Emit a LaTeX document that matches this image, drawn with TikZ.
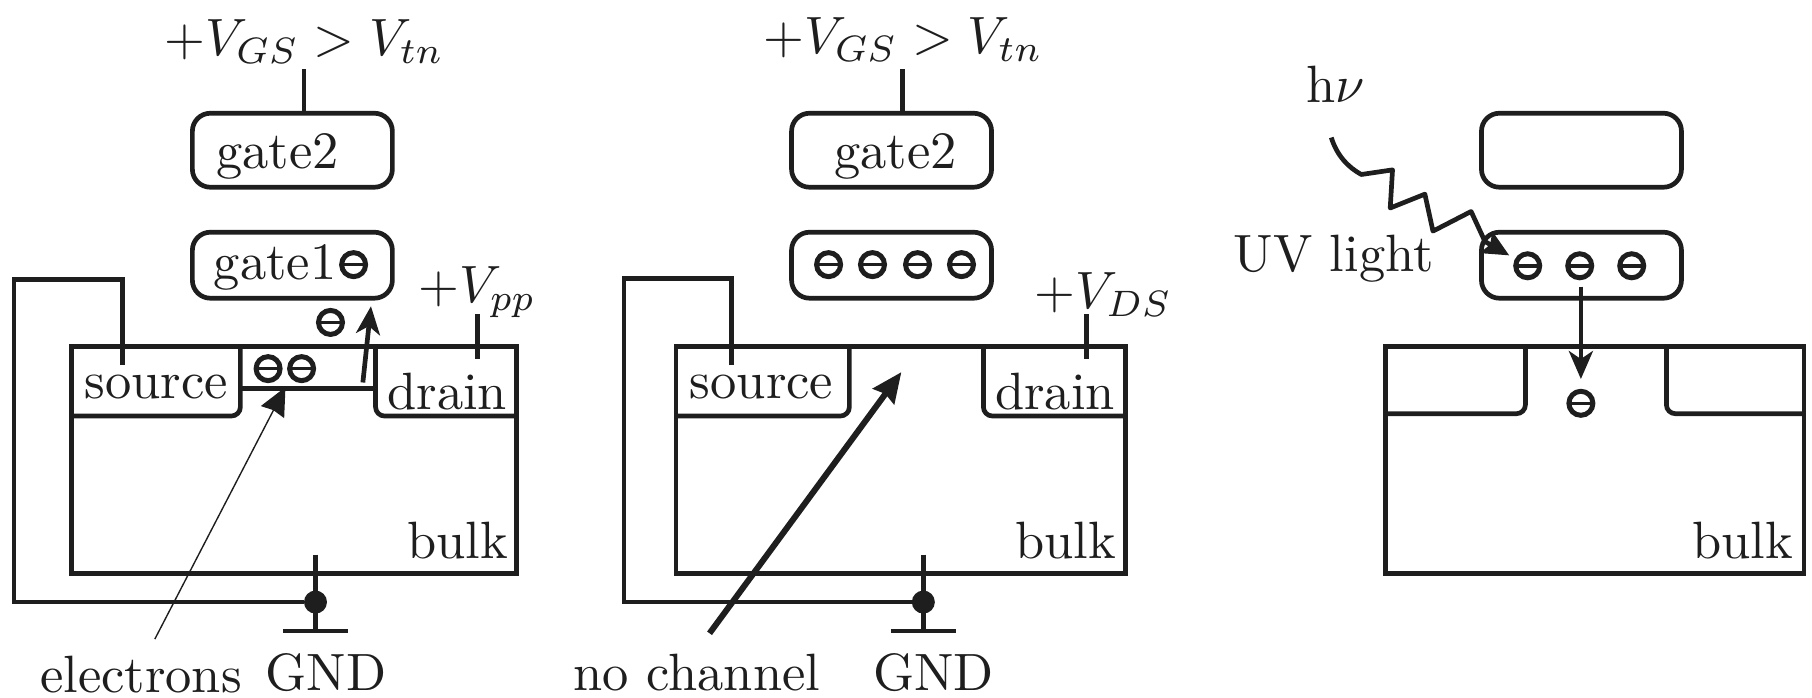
\documentclass[tikz,border=0pt]{standalone}
\usetikzlibrary{arrows.meta,calc}
\tikzset{
  px/.style={x=1.1556pt,y=-1.1556pt},
  lw/.style={line width=4.7pt,draw=ink},
  gatebox/.style={lw,rectangle,rounded corners=18pt,minimum width=200pt,inner sep=0pt,anchor=center},
  txt/.style={scale=5.25,inner sep=0pt,text=ink},
  elec/.style={circle,lw,line width=5pt,minimum size=24pt,inner sep=0pt,
    path picture={\draw[line width=3.5pt,draw=ink] (path picture bounding box.west) -- (path picture bounding box.east);}},
  wire/.style={lw,line join=miter},
  dotn/.style={circle,fill=ink,inner sep=0pt,minimum size=23pt},
  headarrow/.style={lw,-{Stealth[length=28pt,width=24pt,inset=8pt]}},
  fatarrow/.style={line width=6pt,draw=ink,-{Stealth[length=30pt,width=26pt,inset=3pt]}},
  thinarrow/.style={line width=1.4pt,draw=ink,-{Stealth[length=28pt,width=26pt,inset=2pt]}}
}
\definecolor{ink}{HTML}{1E1E1E}
\begin{document}
\begin{tikzpicture}[px]
\useasboundingbox (0,0) rectangle (1568,604);
% ---------- left panel
\node[txt] (vg1) at (263.5,36) {$+V_{GS}>V_{tn}$};
\node[gatebox,minimum height=74pt] (g2a) at (253,130) {};
\node[gatebox,minimum height=66pt] (g1a) at (253,229.5) {};
\node[txt] (g2atxt) at (240,135) {gate2};
\node[txt] (g1atxt) at (238,231) {gate1};
\node[elec] (e1) at (306,229) {};
\node[elec] (e2) at (286,279) {};
\node[elec] (e3) at (232,319) {};
\node[elec] (e4) at (261,319) {};
\coordinate (v1a) at (263,60);
\draw[lw] (v1a) -- (g2a.north -| v1a);
\coordinate (ba1) at (62,300); \coordinate (ba2) at (447,496);
\draw[lw] (ba1) rectangle (ba2);
\coordinate (sa0) at (62,360); \coordinate (sa1) at (208,360); \coordinate (sa2) at (208,300);
\draw[lw,rounded corners=9pt] (sa0) -- (sa1) -- (sa2);
\coordinate (da0) at (447,360); \coordinate (da1) at (325,360); \coordinate (da2) at (325,300);
\draw[lw,rounded corners=9pt] (da0) -- (da1) -- (da2);
\coordinate (cha) at (208,336); \coordinate (chb) at (325,336);
\draw[lw] (cha) -- (chb);
\node[txt] (sa) at (135,335) {source};
\node[txt] (da) at (387,339) {drain};
\node[txt] (bua) at (396,468) {bulk};
\node[txt] (vpp) at (413,253) {$+V_{pp}$};
\coordinate (vp1) at (413,272); \coordinate (vp2) at (413,311);
\draw[lw] (vp1) -- (vp2);
\coordinate (wa0) at (106,316); \coordinate (wa1) at (106,242); \coordinate (wa2) at (12,242); \coordinate (wa3) at (12,521);
\node[dotn] (da3) at (273,521) {};
\draw[wire] (wa0) -- (wa1) -- (wa2) -- (wa3) -- (da3);
\coordinate (ga0) at (273,480); \coordinate (ga1) at (273,546); \coordinate (gb0) at (245,546); \coordinate (gb1) at (301,546);
\draw[lw] (ga0) -- (ga1); \draw[lw] (gb0) -- (gb1);
\node[txt] (gnda) at (282,582) {GND};
\node[txt] (ela) at (122,584) {electrons};
\coordinate (aa0) at (314,331); \coordinate (aa1) at (321,265);
\draw[headarrow] (aa0) -- (aa1);
\coordinate (ta0) at (134,553); \coordinate (ta1) at (247,335);
\draw[thinarrow] (ta0) -- (ta1);
% ---------- middle panel
\node[txt] (vg2) at (781.5,34) {$+V_{GS}>V_{tn}$};
\node[gatebox,minimum height=74pt] (g2b) at (771.5,130) {};
\node[gatebox,minimum height=66pt] (g1b) at (771.5,229.5) {};
\node[txt] (g2btxt) at (775,135) {gate2};
\foreach \n/\x in {b1/717,b2/755,b3/794,b4/832} \node[elec] (\n) at (\x,229) {};
\coordinate (v1b) at (781,60);
\draw[lw] (v1b) -- (g2b.north -| v1b);
\coordinate (bb1) at (585,300); \coordinate (bb2) at (974,496);
\draw[lw] (bb1) rectangle (bb2);
\coordinate (sb0) at (585,360); \coordinate (sb1) at (735,360); \coordinate (sb2) at (735,300);
\draw[lw,rounded corners=9pt] (sb0) -- (sb1) -- (sb2);
\coordinate (db0) at (974,360); \coordinate (db1) at (851,360); \coordinate (db2) at (851,300);
\draw[lw,rounded corners=9pt] (db0) -- (db1) -- (db2);
\node[txt] (sb) at (659,335) {source};
\node[txt] (db) at (913,339) {drain};
\node[txt] (bub) at (922,468) {bulk};
\node[txt] (vds) at (955,255) {$+V_{DS}$};
\coordinate (vd1) at (940,272); \coordinate (vd2) at (940,311);
\draw[lw] (vd1) -- (vd2);
\coordinate (wb0) at (633,316); \coordinate (wb1) at (633,241); \coordinate (wb2) at (540,241); \coordinate (wb3) at (540,521);
\node[dotn] (db3) at (799,521) {};
\draw[wire] (wb0) -- (wb1) -- (wb2) -- (wb3) -- (db3);
\coordinate (gc0) at (799,480); \coordinate (gc1) at (799,546); \coordinate (gd0) at (771,546); \coordinate (gd1) at (827,546);
\draw[lw] (gc0) -- (gc1); \draw[lw] (gd0) -- (gd1);
\node[txt] (gndb) at (808,582) {GND};
\node[txt] (noch) at (603,582) {no channel};
\coordinate (fa0) at (614,548); \coordinate (fa1) at (780,322);
\draw[fatarrow] (fa0) -- (fa1);
% ---------- right panel
\node[gatebox,minimum height=74pt] (g2c) at (1368.5,130) {};
\node[gatebox,minimum height=66pt] (g1c) at (1368.5,229.5) {};
\foreach \n/\x in {c1/1322,c2/1367,c3/1412} \node[elec] (\n) at (\x,230) {};
\node[elec] (c4) at (1368,349) {};
\coordinate (bc1) at (1199,300); \coordinate (bc2) at (1561,496);
\draw[lw] (bc1) rectangle (bc2);
\coordinate (sc0) at (1199,358); \coordinate (sc1) at (1320,358); \coordinate (sc2) at (1320,300);
\draw[lw,rounded corners=9pt] (sc0) -- (sc1) -- (sc2);
\coordinate (dc0) at (1561,358); \coordinate (dc1) at (1442,358); \coordinate (dc2) at (1442,300);
\draw[lw,rounded corners=9pt] (dc0) -- (dc1) -- (dc2);
\node[txt] (buc) at (1508,468) {bulk};
\node[txt] (hnu) at (1156,73) {h$\nu$};
\node[txt] (uv) at (1154,224) {UV light};
\coordinate (ac0) at (1368,248); \coordinate (ac1) at (1368,328);
\draw[headarrow] (ac0) -- (ac1);
\coordinate (w0) at (1152,119);
\coordinate (w1) at (1178,151); \coordinate (w2) at (1205,147); \coordinate (w3) at (1203,180);
\coordinate (w4) at (1233,168); \coordinate (w5) at (1240,200); \coordinate (w6) at (1273,183);
\coordinate (w7) at (1306,221);
\draw[lw,line join=round,-{Stealth[length=26pt,width=24pt,inset=4pt]}]
  (w0) .. controls (1157,135) and (1167,145) .. (w1) -- (w2) -- (w3) -- (w4) -- (w5) -- (w6) -- (1285,209) -- (w7);
\end{tikzpicture}
\end{document}
